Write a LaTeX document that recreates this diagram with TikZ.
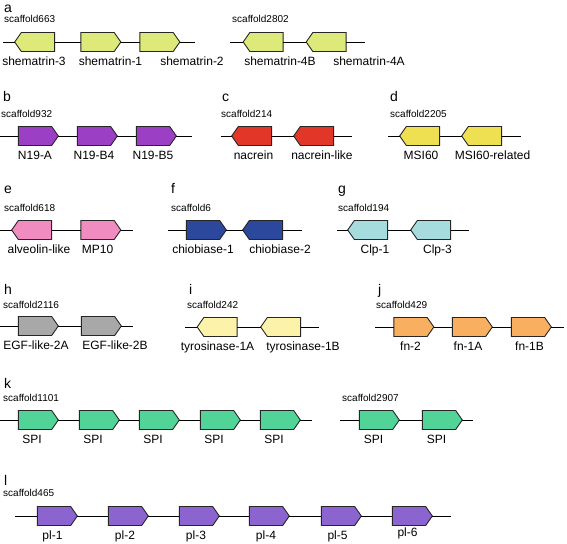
\documentclass[tikz,border=0pt]{standalone}
\usepackage{fontspec}
\setmainfont{Liberation Sans}
\usetikzlibrary{positioning, shapes.symbols}
\definecolor{shemC}{RGB}{221,234,122}
\definecolor{nineC}{RGB}{155,64,196}
\definecolor{nacC}{RGB}{226,54,40}
\definecolor{msiC}{RGB}{238,224,80}
\definecolor{alvC}{RGB}{240,140,192}
\definecolor{chiC}{RGB}{44,72,156}
\definecolor{clpC}{RGB}{166,220,222}
\definecolor{egfC}{RGB}{168,168,168}
\definecolor{tyrC}{RGB}{252,242,170}
\definecolor{fnC}{RGB}{248,176,96}
\definecolor{spiC}{RGB}{82,212,152}
\definecolor{plC}{RGB}{140,100,208}

\begin{document}
\begin{tikzpicture}[x=1pt, y=-1pt,
		gene/.style={shape=signal, draw=black!85, line width=0.9pt, minimum width=40pt,
			minimum height=19pt, signal pointer angle=110, inner sep=0pt, outer sep=0pt},
		lbl/.style={font=\fontsize{12}{14}\selectfont, inner sep=0pt, text height=9pt, text depth=2.5pt},
		scf/.style={font=\fontsize{10}{12}\selectfont, anchor=base west, inner sep=0pt},
		tag/.style={font=\fontsize{14}{16}\selectfont, anchor=base west, inner sep=0pt},
		chr/.style={line width=0.9pt}]
		\useasboundingbox (0,0) rectangle (567,543);
		% a
		\node[tag] (ta) at (4,13) {a};
		\node[scf] (sa) at (4,23) {scaffold663};
		\coordinate (a0) at (3,42);
		\coordinate (a4) at (195,42);
		\foreach \n/\x/\d/\s/\t in {a1/38/west/-4/shematrin-3, a2/97.5/east/13/shematrin-1, a3/156.5/east/35.5/shematrin-2}
			{
				\node[gene, signal to=\d, fill=shemC] (\n) at (\x,42) {};
				\node[lbl, below=4.5pt of \n, xshift=\s pt] (\n t) {\t};
			}
		\draw[chr] (a0) -- (a1) -- (a2) -- (a3) -- (a4);
		\node[scf] (saa) at (232,23) {scaffold2802};
		\coordinate (aa0) at (230,42);
		\coordinate (aa3) at (365,42);
		\foreach \n/\x/\s/\t in {aa1/266.5/13.5/shematrin-4B, aa2/329.5/39.5/shematrin-4A}
			{
				\node[gene, signal to=west, fill=shemC] (\n) at (\x,42) {};
				\node[lbl, below=4.5pt of \n, xshift=\s pt] (\n t) {\t};
			}
		\draw[chr] (aa0) -- (aa1) -- (aa2) -- (aa3);
		% b
		\node[tag] (tb) at (3,101) {b};
		\node[scf] (sb) at (1,117) {scaffold932};
		\coordinate (b0) at (0,136);
		\coordinate (b4) at (192,136);
		\foreach \n/\x/\t in {b1/35/N19-A, b2/94/N19-B4, b3/153/N19-B5}
			{
				\node[gene, signal to=east, fill=nineC] (\n) at (\x,136) {};
				\node[lbl, below=4.5pt of \n] (\n t) {\t};
			}
		\draw[chr] (b0) -- (b1) -- (b2) -- (b3) -- (b4);
		% c
		\node[tag] (tc) at (222,101) {c};
		\node[scf] (sc) at (221,117) {scaffold214};
		\coordinate (c0) at (221,136);
		\coordinate (c3) at (352,136);
		\foreach \n/\x/\s/\t in {c1/255/-1.5/nacrein, c2/317/5/nacrein-like}
			{
				\node[gene, signal to=west, fill=nacC] (\n) at (\x,136) {};
				\node[lbl, below=4.5pt of \n, xshift=\s pt] (\n t) {\t};
			}
		\draw[chr] (c0) -- (c1) -- (c2) -- (c3);
		% d
		\node[tag] (td) at (390,101) {d};
		\node[scf] (sd) at (390,117) {scaffold2205};
		\coordinate (d0) at (388,136);
		\coordinate (d3) at (521,136);
		\foreach \n/\x/\s/\t in {d1/423/-2/MSI60, d2/485/7.5/MSI60-related}
			{
				\node[gene, signal to=west, fill=msiC] (\n) at (\x,136) {};
				\node[lbl, below=4.5pt of \n, xshift=\s pt] (\n t) {\t};
			}
		\draw[chr] (d0) -- (d1) -- (d2) -- (d3);
		% e
		\node[tag] (te) at (4,193) {e};
		\node[scf] (se) at (4,211) {scaffold618};
		\coordinate (e0) at (0,230);
		\coordinate (e3) at (133,230);
		\foreach \n/\x/\d/\s/\t in {e1/35/west/4/alveolin-like, e2/97.5/east/0/MP10}
			{
				\node[gene, signal to=\d, fill=alvC] (\n) at (\x,230) {};
				\node[lbl, below=4.5pt of \n, xshift=\s pt] (\n t) {\t};
			}
		\draw[chr] (e0) -- (e1) -- (e2) -- (e3);
		% f
		\node[tag] (tf) at (171,193) {f};
		\node[scf] (sf) at (171,211) {scaffold6};
		\coordinate (f0) at (168,230);
		\coordinate (f3) at (302,230);
		\foreach \n/\x/\d/\s/\t in {f1/203/east/0/chiobiase-1, f2/266/west/14/chiobiase-2}
			{
				\node[gene, signal to=\d, fill=chiC] (\n) at (\x,230) {};
				\node[lbl, below=4.5pt of \n, xshift=\s pt] (\n t) {\t};
			}
		\draw[chr] (f0) -- (f1) -- (f2) -- (f3);
		% g
		\node[tag] (tg) at (338,193) {g};
		\node[scf] (sg) at (338,211) {scaffold194};
		\coordinate (g0) at (337,230);
		\coordinate (g3) at (469,230);
		\foreach \n/\x/\s/\t in {g1/371/4/Clp-1, g2/434/3.5/Clp-3}
			{
				\node[gene, signal to=west, fill=clpC] (\n) at (\x,230) {};
				\node[lbl, below=4.5pt of \n, xshift=\s pt] (\n t) {\t};
			}
		\draw[chr] (g0) -- (g1) -- (g2) -- (g3);
		% h
		\node[tag] (th) at (4,294) {h};
		\node[scf] (sh) at (3,308) {scaffold2116};
		\coordinate (h0) at (0,326);
		\coordinate (h3) at (133,326);
		\foreach \n/\x/\s/\t in {h1/35/1/EGF-like-2A, h2/98/17/EGF-like-2B}
			{
				\node[gene, signal to=east, fill=egfC] (\n) at (\x,326) {};
				\node[lbl, below=4.5pt of \n, xshift=\s pt] (\n t) {\t};
			}
		\draw[chr] (h0) -- (h1) -- (h2) -- (h3);
		% i
		\node[tag] (ti) at (189,294) {i};
		\node[scf] (si) at (187,308) {scaffold242};
		\coordinate (i0) at (185,327);
		\coordinate (i3) at (319,327);
		\foreach \n/\x/\s/\t in {i1/220.5/-3/tyrosinase-1A, i2/284/19/tyrosinase-1B}
			{
				\node[gene, signal to=west, fill=tyrC] (\n) at (\x,327) {};
				\node[lbl, below=4.5pt of \n, xshift=\s pt] (\n t) {\t};
			}
		\draw[chr] (i0) -- (i1) -- (i2) -- (i3);
		% j
		\node[tag] (tj) at (378,294) {j};
		\node[scf] (sj) at (376,308) {scaffold429};
		\coordinate (j0) at (375,327);
		\coordinate (j4) at (564,327);
		\foreach \n/\x/\s/\t in {j1/410.5/0/fn-2, j2/469/-1/fn-1A, j3/528/1.5/fn-1B}
			{
				\node[gene, signal to=east, fill=fnC] (\n) at (\x,327) {};
				\node[lbl, below=4.5pt of \n, xshift=\s pt] (\n t) {\t};
			}
		\draw[chr] (j0) -- (j1) -- (j2) -- (j3) -- (j4);
		% k
		\node[tag] (tk) at (4,388) {k};
		\node[scf] (sk) at (3,401) {scaffold1101};
		\coordinate (k0) at (0,420);
		\coordinate (k6) at (312,420);
		\foreach \n/\x in {k1/35, k2/96, k3/156, k4/217, k5/277}
			{
				\node[gene, signal to=east, fill=spiC] (\n) at (\x,420) {};
				\node[lbl, below=4.5pt of \n, xshift=-3pt] (\n t) {SPI};
			}
		\draw[chr] (k0) -- (k1) -- (k2) -- (k3) -- (k4) -- (k5) -- (k6);
		\node[scf] (skk) at (342,401) {scaffold2907};
		\coordinate (kk0) at (340,420);
		\coordinate (kk3) at (473,420);
		\foreach \n/\x in {kk1/376, kk2/439}
			{
				\node[gene, signal to=east, fill=spiC] (\n) at (\x,420) {};
				\node[lbl, below=4.5pt of \n, xshift=-2.5pt] (\n t) {SPI};
			}
		\draw[chr] (kk0) -- (kk1) -- (kk2) -- (kk3);
		% l
		\node[tag] (tl) at (4,485) {l};
		\node[scf] (sl) at (3,496) {scaffold465};
		\coordinate (l0) at (15,516);
		\coordinate (l7) at (451,516);
		\foreach \n/\x/\s/\t in {l1/54/-1.5/pl-1, l2/125/0/pl-2, l3/196/0/pl-3, l4/266/0/pl-4, l5/338/-0.5/pl-5}
			{
				\node[gene, signal to=east, fill=plC] (\n) at (\x,516) {};
				\node[lbl, below=4.5pt of \n, xshift=\s pt] (\n t) {\t};
			}
		\node[gene, signal to=east, fill=plC] (l6) at (409,516) {};
		\node[lbl, below=1.5pt of l6, xshift=-1.5pt] (l6 t) {pl-6};
		\draw[chr] (l0) -- (l1) -- (l2) -- (l3) -- (l4) -- (l5) -- (l6) -- (l7);
	\end{tikzpicture}
\end{document}
